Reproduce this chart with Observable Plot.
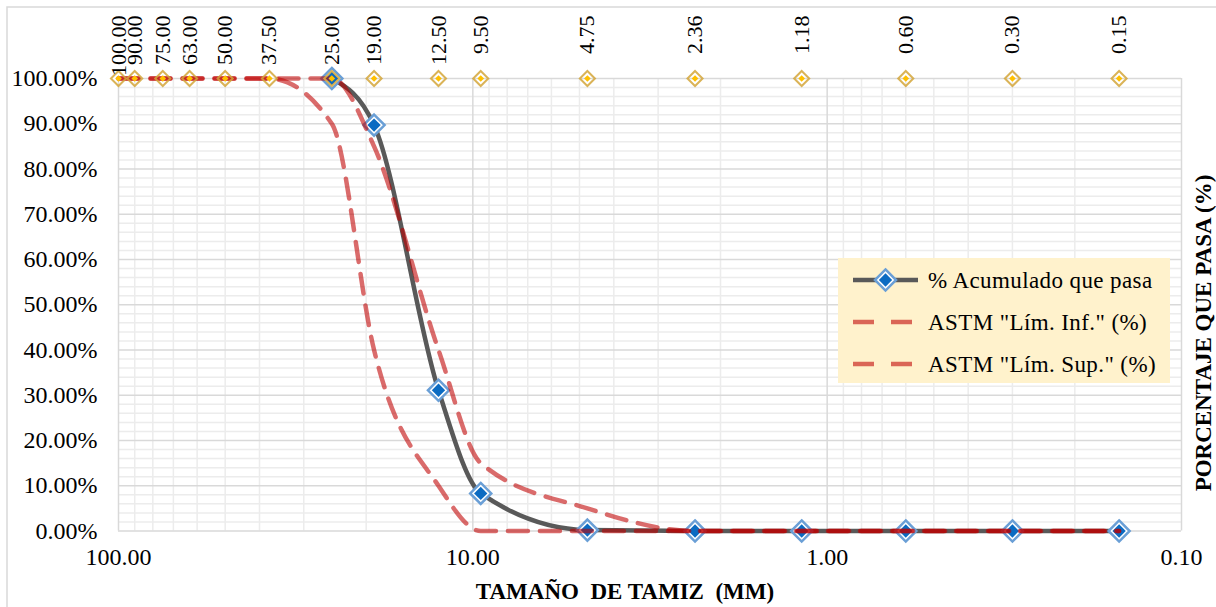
<!DOCTYPE html>
<html><head><meta charset="utf-8">
<script src="https://cdn.jsdelivr.net/npm/d3@7"></script>
<script src="https://cdn.jsdelivr.net/npm/@observablehq/plot@0.6"></script>
<style>
body{margin:0;background:#fff;}
#chart{width:1216px;height:607px;overflow:hidden;}
</style></head><body>
<div id="chart"></div>
<script>
// Sieve sizes (mm) and their top labels
const sieves = [100, 90, 75, 63, 50, 37.5, 25, 19, 12.5, 9.5, 4.75, 2.36, 1.18, 0.60, 0.30, 0.15];
const sieveLabels = ["100.00","90.00","75.00","63.00","50.00","37.50","25.00","19.00","12.50","9.50","4.75","2.36","1.18","0.60","0.30","0.15"];
// % Acumulado que pasa
const passSieves = [25, 19, 12.5, 9.5, 4.75, 2.36, 1.18, 0.60, 0.30, 0.15];
const passing = [100, 89.7, 31.1, 8.3, 0.2, 0, 0, 0, 0, 0];
// ASTM limits (per sieve)
const astmLower = [100, 100, 100, 100, 100, 100, 90, 40, 10, 0, 0, 0, 0, 0, 0, 0];
const astmUpper = [100, 100, 100, 100, 100, 100, 100, 85, 40, 15, 5, 0, 0, 0, 0, 0];
const sieveLevel = 100;
// Axis ticks
const xTicks = [100, 10, 1, 0.1];
const yTicks = [0, 10, 20, 30, 40, 50, 60, 70, 80, 90, 100];
const legendLabels = ["% Acumulado que pasa", "ASTM \"Lím. Inf.\" (%)", "ASTM \"Lím. Sup.\" (%)"];
const xTitle = "TAMAÑO  DE TAMIZ  (MM)";
const yTitle = "PORCENTAJE QUE PASA (%)";

const xMinor = [];
[10, 1, 0.1].forEach(dec => { for (let k = 2; k <= 9; k++) xMinor.push(k * dec); });
const yMinor = d3.range(0, 101, 2).filter(v => v % 10 !== 0);

const sieveData = sieves.map((s, i) => ({s, label: sieveLabels[i], v: sieveLevel}));
const passData = passSieves.map((s, i) => ({s, v: passing[i]}));
const lowerData = sieves.map((s, i) => ({s, v: astmLower[i]}));
const upperData = sieves.map((s, i) => ({s, v: astmUpper[i]}));

const FONT = "Liberation Serif";
const RED = "#C00000";
const CURVE = "monotone-x";

const plot = Plot.plot({
  width: 1216, height: 607,
  marginLeft: 118, marginRight: 35, marginTop: 78, marginBottom: 76.5,
  x: {type: "log", domain: [100, 0.1]},
  y: {domain: [0, 100]},
  style: {fontFamily: FONT, color: "#000", background: "transparent"},
  marks: [
    Plot.ruleX(xMinor, {stroke: "#ececec", strokeWidth: 1.5}),
    Plot.ruleY(yMinor, {stroke: "#ececec", strokeWidth: 1.5}),
    Plot.ruleX(xTicks, {stroke: "#d9d9d9", strokeWidth: 1.5}),
    Plot.ruleY(yTicks, {stroke: "#d9d9d9", strokeWidth: 1.5}),
    Plot.axisX(xTicks, {anchor: "bottom", tickFormat: d => d.toFixed(2), tickSize: 0, tickPadding: 17, fontSize: 24, fontFamily: FONT, label: null, fill: "#000"}),
    Plot.axisY(yTicks, {anchor: "left", tickFormat: d => d.toFixed(2) + "%", tickSize: 0, tickPadding: 21, fontSize: 24, fontFamily: FONT, label: null, fill: "#000"}),
    Plot.line(passData, {x: "s", y: "v", stroke: "#595959", strokeWidth: 4.5, curve: CURVE}),
    Plot.dot(passData, {x: "s", y: "v", symbol: "diamond2", r: 9.5, fill: "white", stroke: "#6A9FD6", strokeWidth: 2.5}),
    Plot.dot(passData, {x: "s", y: "v", symbol: "diamond2", r: 6, fill: "#0B6BC2", stroke: "none"}),
    Plot.line(lowerData, {x: "s", y: "v", stroke: RED, strokeOpacity: 0.58, strokeWidth: 4.5, strokeDasharray: "20,12", curve: CURVE}),
    Plot.line(upperData, {x: "s", y: "v", stroke: RED, strokeOpacity: 0.58, strokeWidth: 4.5, strokeDasharray: "20,12", curve: CURVE}),
    Plot.dot(sieveData, {x: "s", y: "v", symbol: "diamond2", r: 6.8, fill: "none", stroke: "#D4A63A", strokeOpacity: 0.85, strokeWidth: 2}),
    Plot.dot(sieveData, {x: "s", y: "v", symbol: "diamond2", r: 3, fill: "#FFC000", stroke: "none"}),
    Plot.text(sieveData, {x: "s", y: "v", text: "label", rotate: -90, textAnchor: "end", dy: -63, fontSize: 22, fontFamily: FONT, fill: "#000"})
  ]
});
document.getElementById("chart").appendChild(plot);

const svg = d3.select(plot);
// outer chart border (extends past the right/bottom edges)
svg.insert("rect", ":first-child").attr("x", 7).attr("y", 7).attr("width", 1400).attr("height", 800)
  .attr("fill", "none").attr("stroke", "#d9d9d9").attr("stroke-width", 1.5);
// axis titles
svg.append("text").attr("x", 625).attr("y", 599).attr("text-anchor", "middle")
  .attr("font-family", FONT).attr("font-weight", "bold").attr("font-size", 23).attr("fill", "#000")
  .style("white-space", "pre").text(xTitle);
svg.append("text").attr("transform", "translate(1203,333) rotate(-90)").attr("text-anchor", "middle")
  .attr("dominant-baseline", "central")
  .attr("font-family", FONT).attr("font-weight", "bold").attr("font-size", 23).attr("fill", "#000").text(yTitle);
// legend
const lg = svg.append("g").attr("text-anchor", "start");
lg.append("rect").attr("x", 838).attr("y", 258).attr("width", 332).attr("height", 125).attr("fill", "#FFF2CC");
const rowsY = [280, 322, 364];
lg.append("line").attr("x1", 853).attr("x2", 918).attr("y1", rowsY[0]).attr("y2", rowsY[0]).attr("stroke", "#595959").attr("stroke-width", 4.5);
lg.append("path").attr("d", d3.symbol(d3.symbolDiamond2, Math.PI * 90)()).attr("transform", `translate(885.5,${rowsY[0]})`)
  .attr("fill", "white").attr("stroke", "#6A9FD6").attr("stroke-width", 2.5);
lg.append("path").attr("d", d3.symbol(d3.symbolDiamond2, Math.PI * 36)()).attr("transform", `translate(885.5,${rowsY[0]})`).attr("fill", "#0B6BC2");
[1, 2].forEach(i => {
  lg.append("line").attr("x1", 853).attr("x2", 918).attr("y1", rowsY[i]).attr("y2", rowsY[i])
    .attr("stroke", RED).attr("stroke-opacity", 0.58).attr("stroke-width", 4.5).attr("stroke-dasharray", "21,17");
});
legendLabels.forEach((t, i) => {
  lg.append("text").attr("x", 928).attr("y", rowsY[i]).attr("dominant-baseline", "central").attr("text-anchor", "start")
    .attr("font-family", FONT).attr("font-size", 23).attr("letter-spacing", 0.4).attr("fill", "#000").text(t);
});
</script>
</body></html>
